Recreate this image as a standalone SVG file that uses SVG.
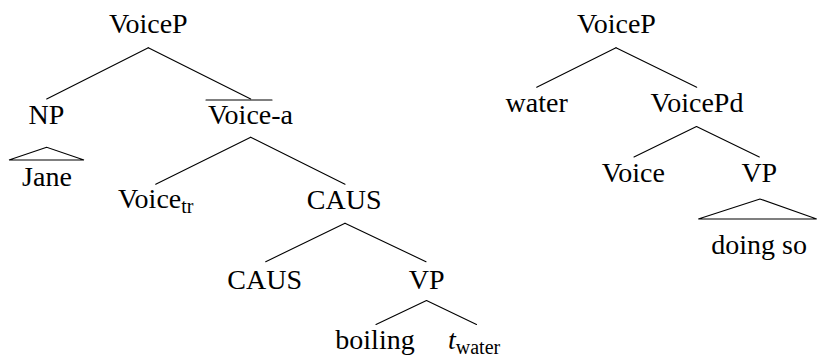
<svg xmlns="http://www.w3.org/2000/svg" width="817" height="356" viewBox="0 0 817 356">
  <style>
    text { font-family: "Liberation Serif", "Times New Roman", "DejaVu Serif", serif; font-size: 28px; fill: #000; }
    .lbl { text-anchor: middle; }
    .start { text-anchor: start; }
    .sub { font-size: 20px; }
    .edge { stroke: #000; stroke-width: 1.1; fill: none; stroke-linecap: round; }
  </style>
  <rect width="817" height="356" fill="#fff"/>

  <!-- connectors -->
  <g id="connectors" class="edge">
    <!-- left tree -->
    <line x1="148.3" y1="47.7" x2="46.7" y2="99"/>
    <line x1="148.3" y1="47.7" x2="250.7" y2="99"/>
    <line x1="250.7" y1="137.3" x2="155.7" y2="184.3"/>
    <line x1="250.7" y1="137.3" x2="345" y2="184.3"/>
    <line x1="345" y1="223.3" x2="265.7" y2="261.7"/>
    <line x1="345" y1="223.3" x2="426" y2="261.7"/>
    <line x1="426.5" y1="300.5" x2="376" y2="324.5"/>
    <line x1="426.5" y1="300.5" x2="476.5" y2="324.5"/>
    <!-- right tree -->
    <line x1="616" y1="47.7" x2="536.7" y2="87.3"/>
    <line x1="616" y1="47.7" x2="696.7" y2="87.3"/>
    <line x1="696.5" y1="126.5" x2="634" y2="157"/>
    <line x1="696.5" y1="126.5" x2="759.3" y2="157"/>
  </g>

  <!-- left tree nodes -->
  <g id="voicep-left"><text class="lbl" x="148.3" y="33" font-family="Liberation Serif, serif">VoiceP</text></g>
  <g id="np"><text class="lbl" x="46.5" y="124">NP</text></g>
  <g id="jane">
    <polygon class="edge" points="46.7,147.3 9,160 84,160"/>
    <text class="lbl" x="47" y="186">Jane</text>
  </g>
  <g id="voice-bar-a">
    <line class="edge" x1="206" y1="100" x2="272" y2="100"/>
    <text class="lbl" x="250.5" y="124">Voice-a</text>
  </g>
  <g id="voice-tr"><text class="start" x="118" y="208">Voice<tspan class="sub" dy="5">tr</tspan></text></g>
  <g id="caus-phrase"><text class="lbl" x="344.2" y="208.5">CAUS</text></g>
  <g id="caus-head"><text class="lbl" x="264.7" y="288.5">CAUS</text></g>
  <g id="vp-left"><text class="lbl" x="426.7" y="288.5">VP</text></g>
  <g id="boiling"><text class="lbl" x="375" y="349">boiling</text></g>
  <g id="trace"><text class="start" x="448" y="349"><tspan font-style="italic">t</tspan><tspan class="sub" dy="4.5">water</tspan></text></g>

  <!-- right tree nodes -->
  <g id="voicep-right"><text class="lbl" x="616.5" y="33">VoiceP</text></g>
  <g id="water"><text class="lbl" x="536.7" y="112">water</text></g>
  <g id="voicepd"><text class="lbl" x="697" y="112">VoicePd</text></g>
  <g id="voice"><text class="lbl" x="633.3" y="182">Voice</text></g>
  <g id="vp-right"><text class="lbl" x="759.3" y="182">VP</text></g>
  <g id="doing-so">
    <polygon class="edge" points="760,199 698.3,219 816.7,219"/>
    <text class="lbl" x="759.2" y="253.5">doing so</text>
  </g>
</svg>
